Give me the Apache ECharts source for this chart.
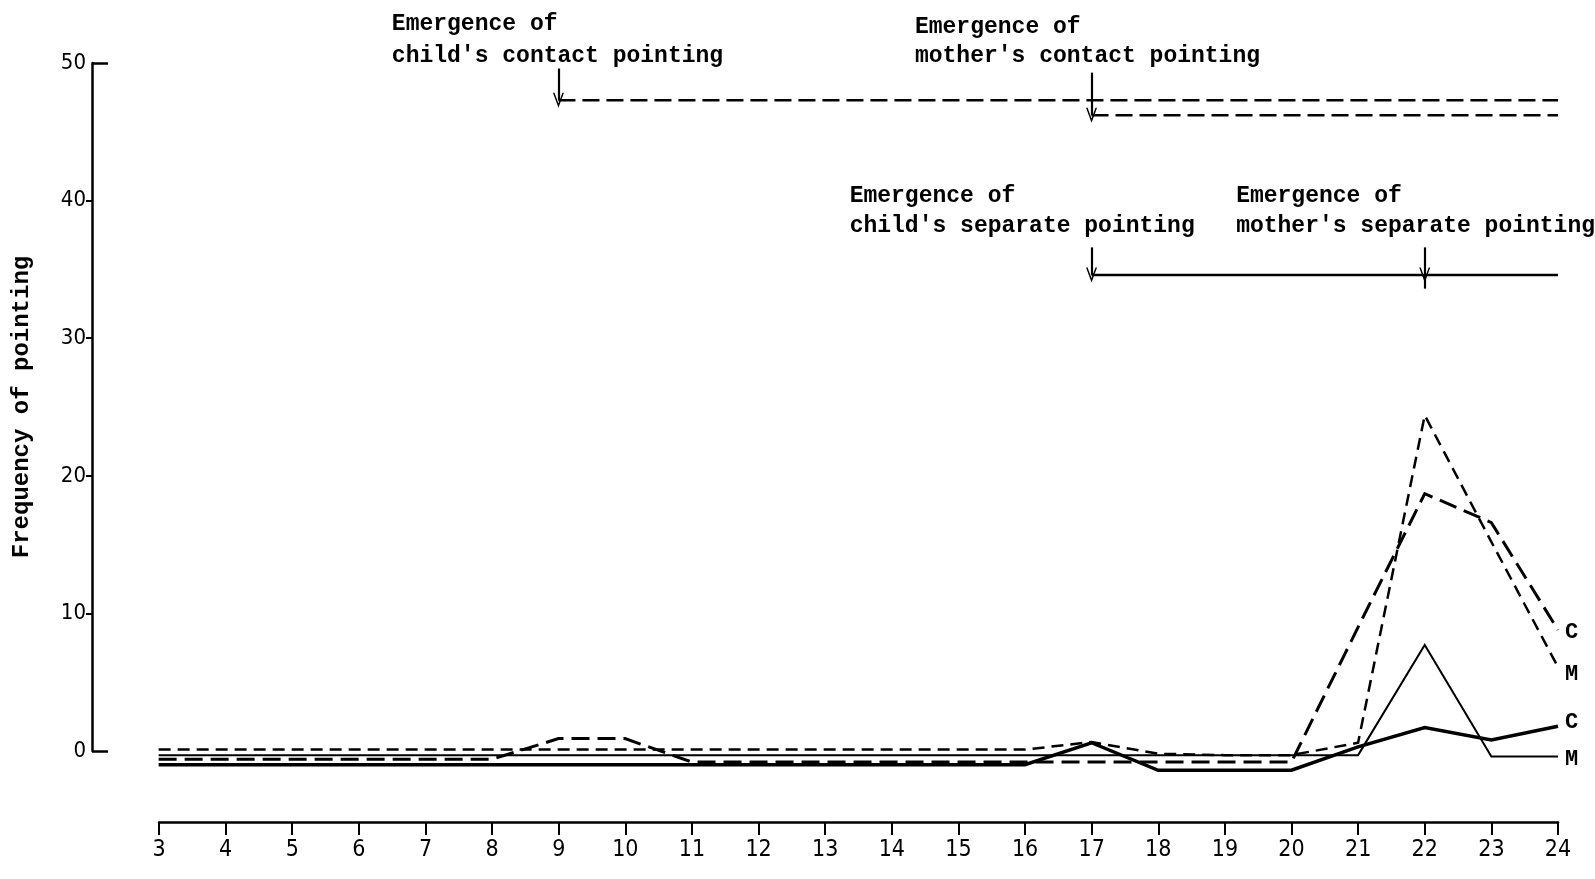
<!DOCTYPE html>
<html>
<head>
<meta charset="utf-8">
<script src="https://cdn.jsdelivr.net/npm/echarts@6/dist/echarts.min.js"></script>
<style>
html,body{margin:0;padding:0;background:#fff;}
#chart{width:1595px;height:879px;}
</style>
</head>
<body>
<div id="chart"></div>
<script>
// ---- data ----
const months = [3,4,5,6,7,8,9,10,11,12,13,14,15,16,17,18,19,20,21,22,23,24];
// long-dashed line labelled C (child's contact pointing)
const childContact = [-0.6,-0.6,-0.6,-0.6,-0.6,-0.6,0.9,0.9,-0.8,-0.8,-0.8,-0.8,-0.8,-0.8,-0.8,-0.8,-0.8,-0.8,9.0,18.7,16.6,8.8];
// short-dashed line labelled M (mother's contact pointing)
const motherContact = [0.1,0.1,0.1,0.1,0.1,0.1,0.1,0.1,0.1,0.1,0.1,0.1,0.1,0.1,0.65,-0.2,-0.3,-0.3,0.6,24.4,15.2,6.1];
// thick solid line labelled C (child's separate pointing)
const childSeparate = [-1.0,-1.0,-1.0,-1.0,-1.0,-1.0,-1.0,-1.0,-1.0,-1.0,-1.0,-1.0,-1.0,-1.0,0.6,-1.4,-1.4,-1.4,0.3,1.7,0.8,1.8];
// thin solid line labelled M (mother's separate pointing)
const motherSeparate = [-0.3,-0.3,-0.3,-0.3,-0.3,-0.3,-0.3,-0.3,-0.3,-0.3,-0.3,-0.3,-0.3,-0.3,-0.3,-0.3,-0.3,-0.3,-0.3,7.7,-0.4,-0.4];

const yTickValues = [0,10,20,30,40,50];
const xTickLabels = months.map(String);

// emergence annotations: [month of emergence, level of bar, arrow start]
const emergenceMonths = [9, 17, 17, 22];
const emergenceLevels = [47.3, 46.2, 34.6, 34.6];
const arrowTops = [49.6, 49.3, 36.6, 36.6];
const emergenceEnd = 24;
const emergenceTexts = [
  "Emergence of\nchild's contact pointing",
  "Emergence of\nmother's contact pointing",
  "Emergence of\nchild's separate pointing",
  "Emergence of\nmother's separate pointing"
];
// text anchors in data space (month of left edge, value of first line centre)
const textMonths = [6.5, 14.35, 13.37, 19.17];
const textValues = [52.9, 52.6, 40.3, 40.3];

const seriesLabels = ['C','M','C','M'];

// ---- chart ----
const chart = echarts.init(document.getElementById('chart'));
const pairs = arr => months.map((m,i)=>[m, arr[i]]);
const mono = "'Liberation Mono','DejaVu Sans Mono',monospace";
const narrow = "'Liberation Sans Narrow','DejaVu Sans Condensed','Liberation Sans',sans-serif";
const chevron = 'path://M0,12 L5,0 L10,12 L8.6,12 L5,3.4 L1.4,12 Z';

function dataSeries(name, data, width, dash, label, offY){
  return {
    name, type:'line', xAxisIndex:0, yAxisIndex:0, data:pairs(data),
    symbol:'none', clip:false, silent:true, animation:false,
    lineStyle:{color:'#000', width, type:dash, cap:'butt', join:'miter'},
    endLabel:{show:true, formatter:label, fontFamily:mono, fontWeight:'bold',
      fontSize:22, color:'#000', distance:7, offset:[0,offY]}
  };
}

const annotationSeries = [
  {data:[[emergenceMonths[0],emergenceLevels[0]],[emergenceEnd,emergenceLevels[0]]], dash:[17,7]},
  {data:[[emergenceMonths[1],emergenceLevels[1]],[emergenceEnd,emergenceLevels[1]]], dash:[17,7]},
  {data:[[emergenceMonths[2],emergenceLevels[2]],[emergenceEnd,emergenceLevels[2]]], dash:'solid'}
].map(s=>({
  type:'line', xAxisIndex:0, yAxisIndex:0, data:s.data, symbol:'none', silent:true, animation:false, clip:false,
  lineStyle:{color:'#000', width:2.5, type:s.dash, cap:'butt'}
}));

// arrows as markLine on the last annotation series
annotationSeries[2].markLine = {
  silent:true, animation:false,
  symbol:['none', chevron], symbolSize:[11,15],
  label:{show:false},
  lineStyle:{color:'#000', width:2.2, type:'solid'},
  data: emergenceMonths.map((m,i)=>[{coord:[m, arrowTops[i]]},{coord:[m, emergenceLevels[i]]}])
    .concat([[{coord:[22, 34.6], symbol:'none'},{coord:[22, 33.6], symbol:'none'}]])
};

const option = {
  backgroundColor:'#fff',
  animation:false,
  grid:[
    {left:92, right:37, top:63, bottom:128, containLabel:false},
    {left:159, right:37, top:800, bottom:57, containLabel:false}
  ],
  xAxis:[
    {gridIndex:0, type:'value', min:2, max:24, show:false},
    {gridIndex:1, type:'value', min:3, max:24, interval:1, position:'bottom',
      axisLine:{show:true, lineStyle:{color:'#000', width:2.5}},
      axisTick:{show:true, inside:false, length:13, lineStyle:{color:'#000', width:2}},
      axisLabel:{show:true, margin:17, fontFamily:narrow, fontSize:23, color:'#000',
        formatter:v=>xTickLabels[months.indexOf(v)] ?? ''},
      splitLine:{show:false}}
  ],
  yAxis:[
    {gridIndex:0, type:'value', min:0, max:50, interval:10, position:'left',
      axisLine:{show:true, lineStyle:{color:'#000', width:2.5}},
      axisTick:{show:true, inside:false, length:6, lineStyle:{color:'#000', width:2}, customValues:[10,20,30,40]},
      axisLabel:{show:true, margin:6, fontFamily:narrow, fontSize:22, color:'#000',
        formatter:v=> yTickValues.includes(v) ? String(v) : ''},
      splitLine:{show:false},
      name:'Frequency of pointing', nameLocation:'middle', nameGap:58, nameRotate:90,
      nameTextStyle:{fontFamily:mono, fontSize:24, fontWeight:'bold', color:'#000'}},
    {gridIndex:0, type:'value', min:0, max:50, interval:50, position:'left', offset:0,
      axisLine:{show:false}, axisLabel:{show:false}, splitLine:{show:false},
      axisTick:{show:true, inside:true, length:16, lineStyle:{color:'#000', width:2.5}}},
    {gridIndex:1, type:'value', min:0, max:1, show:false}
  ],
  series:[
    dataSeries('childContact', childContact, 3, [18,8], seriesLabels[0], 3),
    dataSeries('motherContact', motherContact, 2.5, [12,7], seriesLabels[1], 7),
    dataSeries('childSeparate', childSeparate, 3.5, 'solid', seriesLabels[2], -4),
    dataSeries('motherSeparate', motherSeparate, 2, 'solid', seriesLabels[3], 3)
  ].concat(annotationSeries)
};
chart.setOption(option);

// annotation texts placed from data coordinates
const lineGaps = [32, 29, 30, 30];
const texts = emergenceTexts.map((t,i)=>{
  const p = chart.convertToPixel({xAxisIndex:0, yAxisIndex:0}, [textMonths[i], textValues[i]]);
  return {type:'text', x:p[0], y:p[1]-15, silent:true,
    style:{text:t, font:"bold 23px 'Liberation Mono', monospace", fill:'#000', lineHeight:lineGaps[i], textVerticalAlign:'top'}};
});
chart.setOption({graphic:texts});
</script>
</body>
</html>
